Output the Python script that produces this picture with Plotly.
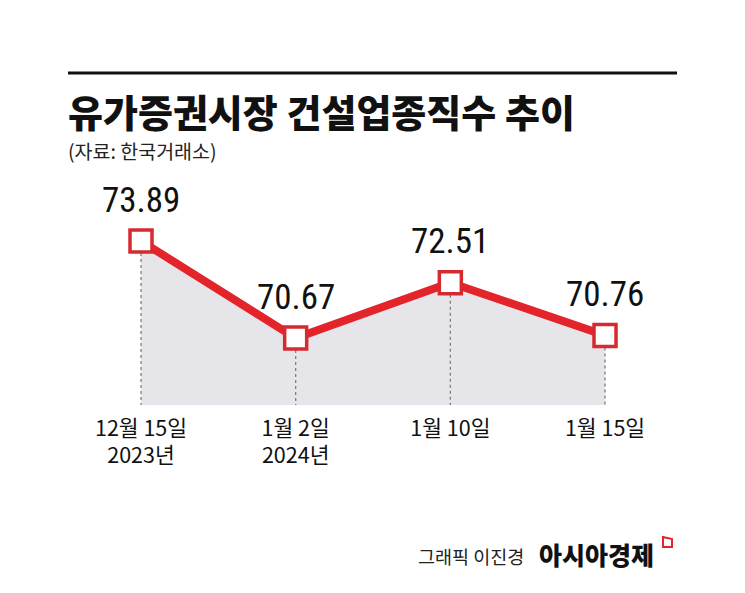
import plotly.graph_objects as go

# ---- data ----
dates = ["12월 15일<br>2023년", "1월 2일<br>2024년", "1월 10일", "1월 15일"]
values = [73.89, 70.67, 72.51, 70.76]
value_labels = ["73.89", "70.67", "72.51", "70.76"]
title_text = "유가증권시장 건설업종직수 추이"
source_text = "(자료: 한국거래소)"
credit_text = "그래픽 이진경"
brand_text = "아시아경제"

W, H = 745, 593
OFF = 8                       # page body margin
TOP_S, BOT_S = 170, 405       # plot area in screen pixels
T = TOP_S - OFF
B = H - (BOT_S - OFF)
YMIN, YMAX = 68.45, 76.25
PXU = 154.67                  # pixels per category step
XMIN = -(141 - OFF) / PXU
XMAX = XMIN + W / PXU
xs = list(range(len(values)))

RED = "#e3242b"
KR = "Noto Sans CJK KR"
NUM = "Liberation Sans Narrow, Roboto Condensed, Liberation Sans"

def py(Y):
    return ((BOT_S - OFF) - (Y - OFF)) / (BOT_S - TOP_S)

def px(X):
    return (X - OFF) / W

fig = go.Figure()

# grey area under the line
fig.add_trace(go.Scatter(
    x=xs, y=values, mode="none", fill="tozeroy",
    fillcolor="#e6e6ea", hoverinfo="skip", showlegend=False))

# dashed drop lines
for xi, v in zip(xs, values):
    fig.add_trace(go.Scatter(
        x=[xi, xi], y=[v, YMIN - 0.05], mode="lines",
        line=dict(color="#7f7f7f", width=1.3, dash="3px,3px"),
        hoverinfo="skip", showlegend=False, cliponaxis=False))

# main red line with square markers
fig.add_trace(go.Scatter(
    x=xs, y=values, mode="lines+markers",
    line=dict(color=RED, width=8),
    marker=dict(symbol="square", size=22, color="white",
                line=dict(color="#d62a30", width=3.5)),
    showlegend=False, cliponaxis=False))

# value labels
for xi, v, t in zip(xs, values, value_labels):
    fig.add_annotation(x=xi, y=v, xref="x", yref="y", text=t,
                       showarrow=False, yshift=41, xanchor="center", yanchor="middle",
                       font=dict(family=NUM, size=35, color="#111111"))

annots = [
    dict(x=px(66), y=py(110), text=title_text, xanchor="left", yanchor="middle",
         font=dict(family=KR, size=38, color="#111111", weight=900)),
    dict(x=px(66), y=py(150), text=source_text, xanchor="left", yanchor="middle",
         font=dict(family=KR, size=19.5, color="#222222")),
    dict(x=px(416), y=py(556), text=credit_text, xanchor="left", yanchor="middle",
         font=dict(family=KR, size=18.5, color="#222222")),
    dict(x=px(537), y=py(554), text=brand_text, xanchor="left", yanchor="middle",
         font=dict(family=KR, size=25, color="#111111", weight=900)),
]
for a in annots:
    fig.add_annotation(xref="paper", yref="paper", showarrow=False, **a)

# top rule
fig.add_shape(type="line", xref="paper", yref="paper",
              x0=px(68), x1=px(677), y0=py(73), y1=py(73),
              line=dict(color="#111111", width=3))
# small brand mark
fig.add_shape(type="path", xref="paper", yref="paper",
              path=f"M {px(663)},{py(537)} L {px(672)},{py(539)} L {px(672)},{py(547)} L {px(663)},{py(547)} Z",
              line=dict(color=RED, width=2), fillcolor="white")

fig.update_layout(
    width=W, height=H,
    margin=dict(l=0, r=0, t=T, b=B, pad=0),
    paper_bgcolor="white", plot_bgcolor="white",
    xaxis=dict(range=[XMIN, XMAX], tickvals=xs, ticktext=dates,
               showgrid=False, zeroline=False, showline=False, ticks="",
               ticklabelstandoff=8,
               tickfont=dict(family=KR, size=21.5, color="#111111")),
    yaxis=dict(range=[YMIN, YMAX], visible=False, showgrid=False, zeroline=False),
)

fig.write_html("out.html")
